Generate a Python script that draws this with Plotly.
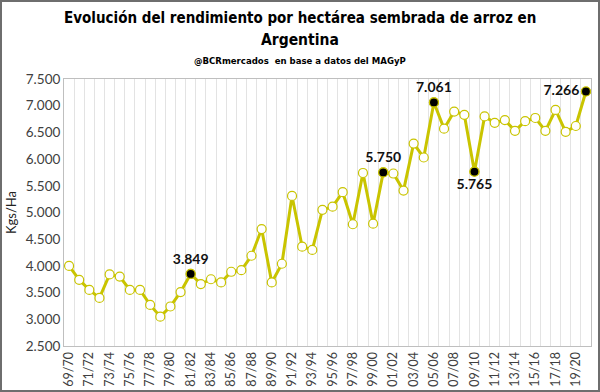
import plotly.graph_objects as go

seasons = ["69/70","70/71","71/72","72/73","73/74","74/75","75/76","76/77","77/78","78/79",
           "79/80","80/81","81/82","82/83","83/84","84/85","85/86","86/87","87/88","88/89",
           "89/90","90/91","91/92","92/93","93/94","94/95","95/96","96/97","97/98","98/99",
           "99/00","00/01","01/02","02/03","03/04","04/05","05/06","06/07","07/08","08/09",
           "09/10","10/11","11/12","12/13","13/14","14/15","15/16","16/17","17/18","18/19",
           "19/20","20/21"]
yield_kg_ha = [4000,3740,3550,3400,3840,3800,3550,3550,3270,3050,
               3240,3510,3849,3660,3750,3690,3890,3920,4190,4690,
               3690,4040,5310,4360,4300,5050,5110,5380,4780,5740,
               4790,5750,5730,5410,6290,6030,7061,6570,6890,6830,
               5765,6800,6680,6730,6530,6710,6770,6530,6920,6510,
               6620,7266]
highlight_seasons = ["81/82","00/01","05/06","09/10","20/21"]
highlight_positions = ["top center","top center","top center","bottom center","middle left"]
y_ticks = [2500,3000,3500,4000,4500,5000,5500,6000,6500,7000,7500]

LINE = "#C9C400"
TXT = "Lato, Liberation Sans"
TITLE = "DejaVu Sans Condensed"
idx = list(range(len(seasons)))
h_idx = [seasons.index(s) for s in highlight_seasons]
h_val = [yield_kg_ha[i] for i in h_idx]
fmt = lambda v: f"{v:,}".replace(",", ".")

fig = go.Figure()
fig.add_trace(go.Scatter(
    x=idx, y=yield_kg_ha, mode="lines+markers",
    line=dict(color=LINE, width=3),
    marker=dict(size=9, color="white", line=dict(color=LINE, width=1.2)),
    hoverinfo="skip", showlegend=False))
fig.add_trace(go.Scatter(
    x=h_idx, y=h_val, mode="markers+text",
    marker=dict(size=9, color="black", line=dict(color=LINE, width=1.2)),
    text=["<b>" + fmt(v) + "</b>" for v in h_val], textposition=highlight_positions,
    textfont=dict(family=TXT, size=14, color="#111111"),
    cliponaxis=False, showlegend=False))

L, R, T, B = 64, 9, 79, 46
W, H = 600, 392
pw, ph = W - L - R, H - T - B

fig.update_layout(
    width=W, height=H,
    margin=dict(l=L, r=R, t=T, b=B, autoexpand=False),
    paper_bgcolor="white", plot_bgcolor="white",
    separators=",.",
    font=dict(family=TXT, color="#404040"),
    xaxis=dict(
        range=[-0.5, len(seasons) - 0.5],
        tickmode="array", tickvals=idx[::2], ticktext=seasons[::2],
        tickangle=-90, tickfont=dict(size=12.5, color="#404040"),
        showgrid=False, zeroline=False, automargin=False,
        showline=True, linecolor="#BFBFBF", linewidth=1, mirror=True,
        ticks="",
        minor=dict(tickmode="linear", tick0=-0.5, dtick=1, showgrid=True,
                   gridcolor="#E3E3E3", gridwidth=1, ticks=""),
    ),
    yaxis=dict(
        range=[2500, 7500], tickmode="array", tickvals=y_ticks,
        ticktext=[fmt(v) for v in y_ticks],
        tickfont=dict(size=13.5, color="#404040"),
        showgrid=False, zeroline=False, automargin=False,
        showline=True, linecolor="#BFBFBF", linewidth=1, mirror=True,
        ticks="",
        title=dict(text="Kgs/Ha", font=dict(size=13, color="#222222"), standoff=6),
    ),
    annotations=[
        dict(text="<b>Evolución del rendimiento por hectárea sembrada de arroz en</b>",
             xref="paper", yref="paper", x=(W/2 - L)/pw, y=1 + (T - 18)/ph,
             showarrow=False, xanchor="center", yanchor="middle",
             font=dict(family=TITLE, size=15, color="black")),
        dict(text="<b>Argentina</b>",
             xref="paper", yref="paper", x=(W/2 - L)/pw, y=1 + (T - 40)/ph,
             showarrow=False, xanchor="center", yanchor="middle",
             font=dict(family=TITLE, size=15.5, color="black")),
        dict(text="<b>@BCRmercados  en base a datos del MAGyP</b>",
             xref="paper", yref="paper", x=(W/2 - L)/pw, y=1 + (T - 60)/ph,
             showarrow=False, xanchor="center", yanchor="middle",
             font=dict(family=TITLE, size=9.5, color="black")),
    ],
    shapes=[dict(type="rect", xref="paper", yref="paper",
                 x0=-(L - 1)/pw, x1=1 + (R - 1)/pw, y0=-(B - 1)/ph, y1=1 + (T - 1)/ph,
                 line=dict(color="#6E6E6E", width=2), fillcolor="rgba(0,0,0,0)", layer="below")],
)

fig.write_html("out.html", config={"displayModeBar": False},
               post_script="document.body.style.margin='0';")
